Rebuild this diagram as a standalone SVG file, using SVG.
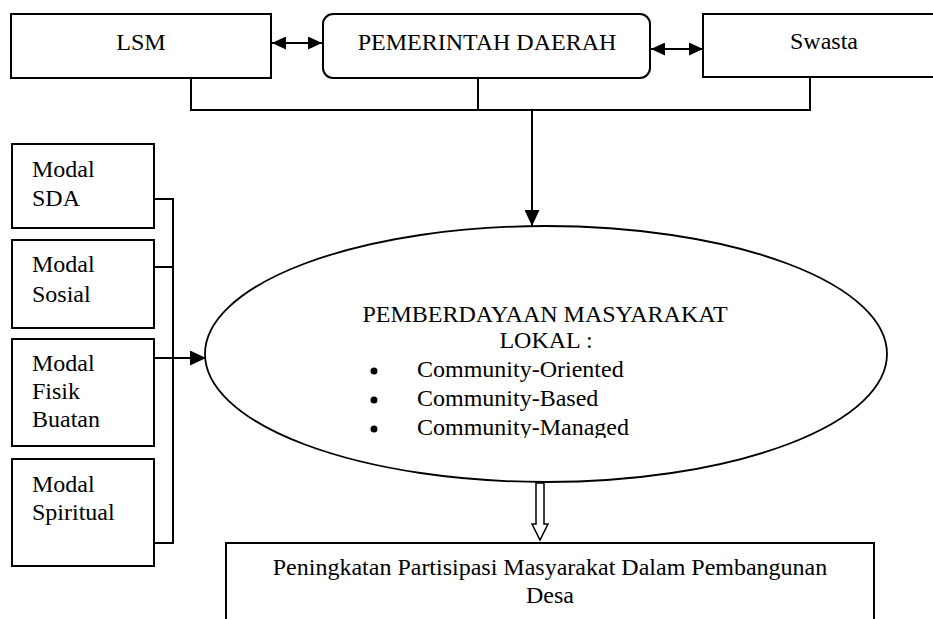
<svg xmlns="http://www.w3.org/2000/svg" width="933" height="619" viewBox="0 0 933 619">
  <style>
    .box { fill: #ffffff; stroke: #000000; stroke-width: 2; }
    .ell { fill: #ffffff; stroke: #000000; stroke-width: 1.8; }
    .ln { fill: none; stroke: #000000; stroke-width: 2; }
    .hollow { fill: #ffffff; stroke: #000000; stroke-width: 1.5; }
    text { font-family: "Liberation Serif", "Times New Roman", serif; font-size: 24px; fill: #000000; }
    .c { text-anchor: middle; }
  </style>
  <defs>
    <marker id="ahSmall" markerUnits="userSpaceOnUse" markerWidth="14" markerHeight="13" viewBox="0 0 14 13" refX="14" refY="6.5" orient="auto-start-reverse">
      <path d="M0,0 L14,6.5 L0,13 Z" fill="#000000"/>
    </marker>
    <marker id="ah" markerUnits="userSpaceOnUse" markerWidth="16" markerHeight="15" viewBox="0 0 16 15" refX="16" refY="7.5" orient="auto">
      <path d="M0,0 L16,7.5 L0,15 Z" fill="#000000"/>
    </marker>
    <clipPath id="clipLast">
      <rect x="400" y="410" width="300" height="28"/>
    </clipPath>
  </defs>

  <g id="connectors">
    <line class="ln" x1="272" y1="43" x2="322" y2="43" marker-start="url(#ahSmall)" marker-end="url(#ahSmall)"/>
    <line class="ln" x1="651" y1="49" x2="703" y2="49" marker-start="url(#ahSmall)" marker-end="url(#ahSmall)"/>
    <polyline class="ln" points="191,78 191,110 810,110 810,77"/>
    <line class="ln" x1="478" y1="78" x2="478" y2="110"/>
    <line class="ln" x1="532" y1="110" x2="532" y2="226" marker-end="url(#ah)"/>
    <line class="ln" x1="173" y1="198" x2="173" y2="544"/>
    <line class="ln" x1="154" y1="199" x2="173" y2="199"/>
    <line class="ln" x1="154" y1="267" x2="173" y2="267"/>
    <line class="ln" x1="154" y1="543" x2="173" y2="543"/>
    <line class="ln" x1="154" y1="358" x2="206" y2="358" marker-end="url(#ah)"/>
    <polygon class="hollow" points="536,483 544,483 544,524 548,524 540,540 532,524 536,524"/>
  </g>

  <g id="node-lsm">
    <rect class="box" x="11" y="14" width="260" height="64"/>
    <text class="c" x="141" y="50">LSM</text>
  </g>

  <g id="node-pemda">
    <rect class="box" x="323" y="14" width="327" height="64" rx="10" ry="10"/>
    <text class="c" x="487" y="50">PEMERINTAH DAERAH</text>
  </g>

  <g id="node-swasta">
    <rect class="box" x="703" y="14" width="250" height="63"/>
    <text class="c" x="824" y="49">Swasta</text>
  </g>

  <g id="node-sda">
    <rect class="box" x="12" y="144" width="142" height="84"/>
    <text x="32" y="177">Modal</text>
    <text x="32" y="206">SDA</text>
  </g>

  <g id="node-sosial">
    <rect class="box" x="12" y="240" width="142" height="88"/>
    <text x="32" y="272">Modal</text>
    <text x="32" y="302">Sosial</text>
  </g>

  <g id="node-fisik">
    <rect class="box" x="12" y="339" width="142" height="107"/>
    <text x="32" y="371">Modal</text>
    <text x="32" y="399">Fisik</text>
    <text x="32" y="427">Buatan</text>
  </g>

  <g id="node-spiritual">
    <rect class="box" x="12" y="459" width="142" height="107"/>
    <text x="32" y="492">Modal</text>
    <text x="32" y="520">Spiritual</text>
  </g>

  <g id="node-pemberdayaan">
    <ellipse class="ell" cx="546" cy="354" rx="341" ry="128"/>
    <text class="c" x="545" y="322">PEMBERDAYAAN MASYARAKAT</text>
    <text class="c" x="546" y="348">LOKAL :</text>
    <circle cx="374" cy="371" r="3.5" fill="#000000"/>
    <circle cx="374" cy="400" r="3.5" fill="#000000"/>
    <circle cx="374" cy="429" r="3.5" fill="#000000"/>
    <text x="417" y="377">Community-Oriented</text>
    <text x="417" y="406">Community-Based</text>
    <text x="417" y="435" clip-path="url(#clipLast)">Community-Managed</text>
  </g>

  <g id="node-peningkatan">
    <rect class="box" x="226" y="543" width="648" height="100"/>
    <text class="c" x="550" y="575">Peningkatan Partisipasi Masyarakat Dalam Pembangunan</text>
    <text class="c" x="550" y="603">Desa</text>
  </g>
</svg>
